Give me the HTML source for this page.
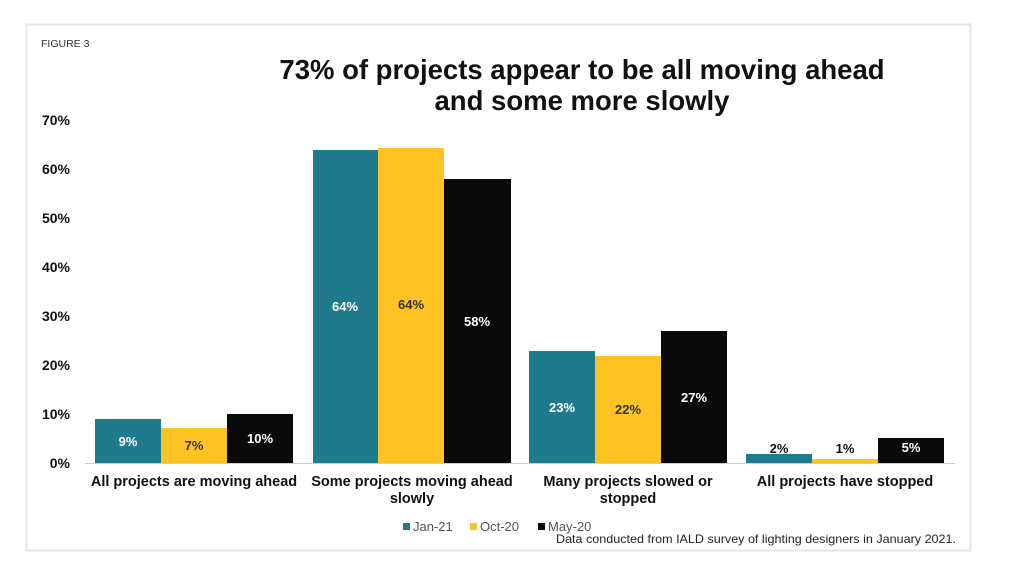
<!DOCTYPE html>
<html><head><meta charset="utf-8"><style>
html,body{margin:0;padding:0;background:#fff;}
svg{display:block;font-family:"Liberation Sans",sans-serif;}
</style></head><body>
<svg width="1024" height="576" viewBox="0 0 1024 576">
<rect x="26.5" y="24.5" width="944" height="526" fill="#fff" stroke="#dde9e9" stroke-width="2"/>
<text x="41" y="47" font-size="10.5" fill="#333">FIGURE 3</text>
<text x="582" y="79" font-size="27.5" font-weight="bold" text-anchor="middle" fill="#111">73% of projects appear to be all moving ahead</text>
<text x="582" y="110" font-size="27.5" font-weight="bold" text-anchor="middle" fill="#111">and some more slowly</text>
<g font-size="14" font-weight="bold" fill="#111" text-anchor="end">
<text x="70" y="125">70%</text><text x="70" y="174">60%</text><text x="70" y="223">50%</text><text x="70" y="272">40%</text>
<text x="70" y="321">30%</text><text x="70" y="370">20%</text><text x="70" y="419">10%</text><text x="70" y="468">0%</text>
</g>
<line x1="85" y1="463.5" x2="955" y2="463.5" stroke="#ccc"/>
<g>
<rect x="95" y="419" width="66" height="44" fill="#1f7a8c"/>
<rect x="161" y="428" width="66" height="35" fill="#fdc323"/>
<rect x="227" y="414" width="66" height="49" fill="#0a0a0a"/>
<rect x="313" y="150" width="65" height="313" fill="#1f7a8c"/>
<rect x="378" y="148" width="66" height="315" fill="#fdc323"/>
<rect x="444" y="179" width="67" height="284" fill="#0a0a0a"/>
<rect x="529" y="351" width="66" height="112" fill="#1f7a8c"/>
<rect x="595" y="356" width="66" height="107" fill="#fdc323"/>
<rect x="661" y="331" width="66" height="132" fill="#0a0a0a"/>
<rect x="746" y="454" width="66" height="9" fill="#1f7a8c"/>
<rect x="812" y="459" width="66" height="4" fill="#fdc323"/>
<rect x="878" y="438" width="66" height="25" fill="#0a0a0a"/>
</g>
<g font-size="13" font-weight="bold" text-anchor="middle">
<text x="128" y="446" fill="#fff">9%</text>
<text x="194" y="450" fill="#333">7%</text>
<text x="260" y="443" fill="#fff">10%</text>
<text x="345" y="311" fill="#fff">64%</text>
<text x="411" y="309" fill="#333">64%</text>
<text x="477" y="326" fill="#fff">58%</text>
<text x="562" y="412" fill="#fff">23%</text>
<text x="628" y="414" fill="#333">22%</text>
<text x="694" y="402" fill="#fff">27%</text>
<text x="779" y="453" fill="#111">2%</text>
<text x="845" y="453" fill="#111">1%</text>
<text x="911" y="452" fill="#fff">5%</text>
</g>
<g font-size="14.5" font-weight="bold" fill="#111" text-anchor="middle">
<text x="194" y="486">All projects are moving ahead</text>
<text x="412" y="486">Some projects moving ahead</text>
<text x="412" y="503">slowly</text>
<text x="628" y="486">Many projects slowed or</text>
<text x="628" y="503">stopped</text>
<text x="845" y="486">All projects have stopped</text>
</g>
<g font-size="13" fill="#555">
<rect x="403" y="523" width="7" height="7" fill="#1f7a8c"/><text x="413" y="531">Jan-21</text>
<rect x="470" y="523" width="7" height="7" fill="#fdc323"/><text x="480" y="531">Oct-20</text>
<rect x="538" y="523" width="7" height="7" fill="#0a0a0a"/><text x="548" y="531">May-20</text>
</g>
<text x="956" y="543" font-size="12" fill="#222" text-anchor="end" textLength="400" lengthAdjust="spacingAndGlyphs">Data conducted from IALD survey of lighting designers in January 2021.</text>
</svg>
</body></html>
